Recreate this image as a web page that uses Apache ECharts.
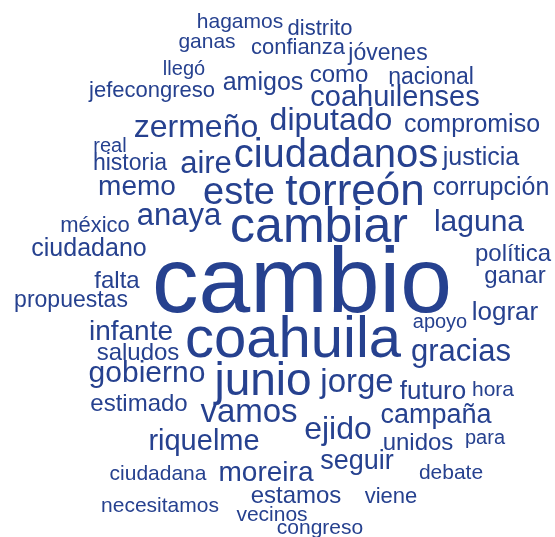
<!DOCTYPE html>
<html>
<head>
<meta charset="utf-8">
<script src="https://cdn.jsdelivr.net/npm/echarts@6/dist/echarts.min.js"></script>
<style>
  html, body { margin: 0; padding: 0; background: #fff; }
  #chart { width: 555px; height: 537px; }
</style>
</head>
<body>
<div id="chart"></div>
<script>
// words of the cloud, their weight (font size) and where each sits in the layout
const words = [
  'cambio', 'coahuila', 'cambiar', 'torreón', 'ciudadanos', 'este', 'junio', 'zermeño',
  'diputado', 'coahuilenses', 'anaya', 'laguna', 'gracias', 'gobierno', 'jorge', 'ejido',
  'vamos', 'riquelme', 'campaña', 'moreira', 'seguir', 'aire', 'memo', 'infante',
  'lograr', 'amigos', 'como', 'nacional', 'compromiso', 'justicia', 'corrupción', 'política',
  'ganar', 'hagamos', 'distrito', 'ganas', 'confianza', 'jóvenes', 'llegó', 'jefecongreso',
  'real', 'historia', 'méxico', 'ciudadano', 'falta', 'propuestas', 'saludos', 'estimado',
  'apoyo', 'futuro', 'hora', 'unidos', 'para', 'ciudadana', 'debate', 'estamos',
  'viene', 'necesitamos', 'vecinos', 'congreso'
]
const weights = [
  93, 58, 50, 44, 40, 38, 46, 32,
  32, 29, 31, 30, 31, 30, 33, 32,
  33, 29, 27, 28, 27, 31, 28, 28,
  26, 25, 24, 23, 25, 25, 25, 24,
  24, 21, 22, 21, 22, 23, 20, 22,
  20, 23, 22, 25, 24, 23, 24, 24,
  20, 26, 21, 24, 20, 21, 21, 24,
  22, 21, 21, 21
]
const xs = [
  302, 293, 319, 355, 336, 239, 263, 196,
  331, 395, 179, 479, 461, 147, 357, 338,
  249, 204, 436, 266, 357, 206, 137, 131,
  505, 263, 339, 431, 472, 481, 491, 513,
  515, 240, 320, 207, 298, 388, 184, 152,
  110, 130, 95, 89, 117, 71, 138, 139,
  440, 433, 493, 418, 485, 158, 451, 296,
  391, 160, 272, 320
]
const ys = [
  286, 341, 228, 193, 156, 194, 382, 128,
  121, 98, 216, 223, 352, 374, 383, 430,
  413, 442, 416, 473, 462, 164, 187, 332,
  313, 83, 75, 78, 125, 158, 188, 254,
  276, 22, 29, 42, 48, 54, 69, 91,
  146, 164, 226, 249, 281, 301, 353, 404,
  322, 392, 390, 443, 438, 474, 473, 496,
  497, 506, 515, 528
]

const chart = echarts.init(document.getElementById('chart'))

const data = words.map((w, i) => ({
  name: w,
  value: [xs[i], ys[i]],
  label: { fontSize: weights[i] }
}))

chart.setOption({
  animation: false,
  backgroundColor: '#ffffff',
  grid: { left: 0, top: 0, width: 555, height: 537 },
  xAxis: { type: 'value', min: 0, max: 555, show: false },
  yAxis: { type: 'value', min: 0, max: 537, inverse: true, show: false },
  series: [{
    type: 'scatter',
    symbolSize: 0,
    silent: true,
    itemStyle: { opacity: 1 },
    data: data,
    label: {
      show: true,
      position: 'inside',
      formatter: '{b}',
      color: '#26418f',
      fontFamily: '"Liberation Sans", Arial, sans-serif',
      align: 'center',
      verticalAlign: 'middle'
    }
  }]
})
</script>
</body>
</html>
